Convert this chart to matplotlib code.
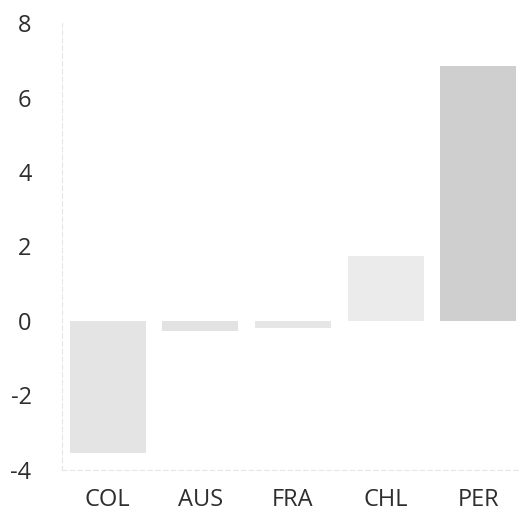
import matplotlib
matplotlib.use("Agg")
import matplotlib.pyplot as plt

categories = ["COL", "AUS", "FRA", "CHL", "PER"]
values = [-3.55, -0.27, -0.2, 1.75, 6.85]
colors = ["#e4e4e4", "#e2e2e2", "#e6e6e6", "#ebebeb", "#cfcfcf"]
yticks = [-4, -2, 0, 2, 4, 6, 8]

plt.rcParams['font.family'] = ['Open Sans', 'DejaVu Sans']
fig = plt.figure(figsize=(5.22, 5.14), dpi=100)
ax = fig.add_axes([0.119, 0.086, 0.877, 0.869])
x = list(range(len(categories)))
ax.bar(x, values, width=0.82, color=colors, edgecolor="none")
ax.set_xlim(-0.49, 4.45)
ax.set_ylim(-4, 8)
ax.set_yticks(yticks)
ax.set_yticklabels([str(t) for t in yticks])
ax.set_xticks(x)
ax.set_xticklabels(categories)
for s in ["top", "right"]:
    ax.spines[s].set_visible(False)
for s in ["left", "bottom"]:
    ax.spines[s].set_color("#e6e6e6")
    ax.spines[s].set_linewidth(0.8)
    ax.spines[s].set_linestyle((0, (4, 3)))
ax.tick_params(axis="both", length=0, labelsize=17, colors="#2e2e2e")
ax.tick_params(axis="y", pad=22)
ax.tick_params(axis="x", pad=13)
fig.savefig("out.png", dpi=100)
